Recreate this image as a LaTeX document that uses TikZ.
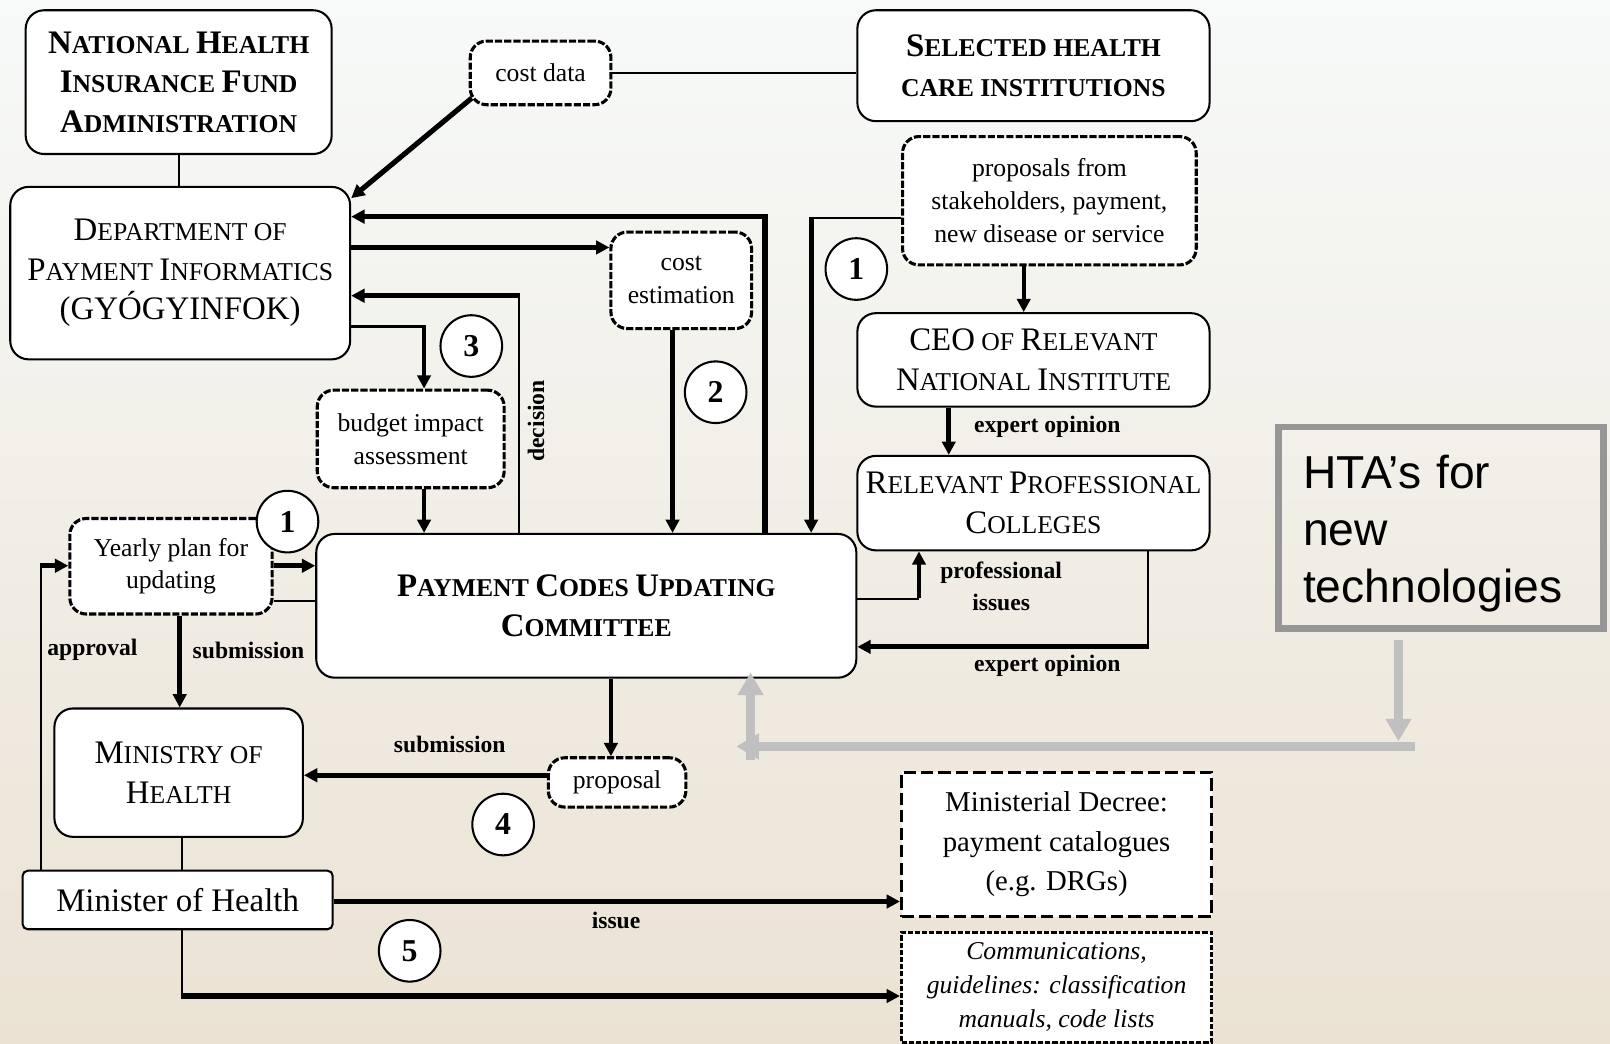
\documentclass[tikz,border=0pt]{standalone}
\usepackage{fontspec}
\setmainfont{Liberation Serif}
\newfontfamily\htafont{Liberation Sans}
\usetikzlibrary{arrows.meta}

\definecolor{bgtop}{HTML}{F7FAF9}
\definecolor{bgmid}{HTML}{EEF0E4}
\definecolor{bgbot}{HTML}{EBE2D3}
\definecolor{htaframe}{HTML}{969696}
\definecolor{htaarrow}{HTML}{C0C0C0}

% hand-made small capitals: large initial, smaller capitals after it
\newcommand\SC[2]{{\fontsize{32}{38.5}\selectfont #1}#2}
\newcommand\bigcaps[1]{{\fontsize{32}{38.5}\selectfont #1}}

\tikzset{
  box/.style={draw=black, line width=2pt, fill=white, rounded corners=18pt,
    align=center, inner sep=0pt, font=\fontsize{25}{38.5}\selectfont},
  hbox/.style={box, font=\fontsize{25}{38.5}\selectfont\bfseries},
  dbox/.style={draw=black, line width=3pt, dash pattern=on 7pt off 2pt,
    fill=white, rounded corners=16pt, align=center, inner sep=0pt,
    font=\fontsize{25}{32}\selectfont},
  circnum/.style={circle, draw=black, line width=2pt, fill=white,
    minimum size=60pt, inner sep=0pt, font=\fontsize{31}{31}\selectfont\bfseries},
  lbl/.style={inner sep=0pt, align=center, font=\fontsize{23}{32}\selectfont\bfseries},
  thinln/.style={line width=2pt},
  medln/.style={line width=3.5pt},
  heavyln/.style={line width=5pt},
  tipped/.style={-{Triangle[length=13pt,width=13pt]}},
  grayln/.style={draw=htaarrow, line width=8pt, -{Triangle[length=22pt,width=24pt]}},
}

\begin{document}
\begin{tikzpicture}[x=1pt,y=-1pt]
\useasboundingbox (0,0) rectangle (1568,1016);
\shade[top color=bgtop, middle color=bgmid, bottom color=bgbot] (0,0) rectangle (1568,1016);

% ---------- boxes ----------
\node[hbox, minimum width=298pt, minimum height=140pt] (nhifa) at (174,80)
  {\SC{N}{ATIONAL} \SC{H}{EALTH}\\ \SC{I}{NSURANCE} \SC{F}{UND}\\ \SC{A}{DMINISTRATION}};
\node[dbox, minimum width=137pt, minimum height=62pt] (cdata) at (526.5,71) {cost data};
\node[hbox, minimum width=343pt, minimum height=108pt] (shci) at (1006.5,64)
  {\SC{S}{ELECTED} HEALTH\\ CARE INSTITUTIONS};
\node[box, minimum width=331pt, minimum height=168pt] (dept) at (175.5,266)
  {\SC{D}{EPARTMENT} OF\\ \SC{P}{AYMENT} \SC{I}{NFORMATICS}\\ \bigcaps{(GYÓGYINFOK)}};
\node[dbox, minimum width=137pt, minimum height=94pt] (cest) at (663.5,273) {cost\\ estimation};
\node[dbox, minimum width=286pt, minimum height=125pt] (props) at (1022,195.5)
  {proposals from\\ stakeholders, payment,\\ new disease or service};
\node[box, minimum width=343pt, minimum height=91pt] (ceo) at (1006.5,350.5)
  {\bigcaps{CEO} OF \SC{R}{ELEVANT}\\ \SC{N}{ATIONAL} \SC{I}{NSTITUTE}};
\node[box, minimum width=343pt, minimum height=92pt] (rpc) at (1006.5,490)
  {\SC{R}{ELEVANT} \SC{P}{ROFESSIONAL}\\ \SC{C}{OLLEGES}};
\node[dbox, minimum width=182pt, minimum height=95pt] (budget) at (400,427.5)
  {budget impact\\ assessment};
\node[dbox, minimum width=197pt, minimum height=93pt] (yearly) at (166.5,551.5)
  {Yearly plan for\\ updating};
\node[hbox, minimum width=526pt, minimum height=140pt] (pcuc) at (571,590)
  {\SC{P}{AYMENT} \SC{C}{ODES} \SC{U}{PDATING}\\ \SC{C}{OMMITTEE}};
\node[box, minimum width=242pt, minimum height=125pt] (ministry) at (174,752.5)
  {\SC{M}{INISTRY} OF\\ \SC{H}{EALTH}};
\node[dbox, minimum width=134pt, minimum height=48pt] (proposal) at (601,762) {proposal};
\node[box, rounded corners=5pt, minimum width=302pt, minimum height=57pt,
  font=\fontsize{32}{38}\selectfont] (minister) at (173,876.5) {Minister of Health};
\node[draw=black, line width=3pt, dash pattern=on 12pt off 5pt, fill=white,
  minimum width=302pt, minimum height=141pt, align=center, inner sep=0pt,
  font=\fontsize{28}{38.5}\selectfont] (decree) at (1029,822.5)
  {Ministerial Decree:\\ payment catalogues\\ (e.g. DRGs)};
\node[draw=black, line width=3pt, dash pattern=on 5pt off 2pt, fill=white,
  minimum width=302pt, minimum height=107pt, align=center, inner sep=0pt,
  font=\fontsize{25}{33}\selectfont\itshape] (comm) at (1029,961.5)
  {Communications,\\ guidelines: classification\\ manuals, code lists};
\node[draw=htaframe, line width=6.5pt, minimum width=316.5pt, minimum height=196.5pt,
  text width=269pt, inner xsep=23.75pt, inner ysep=0pt, align=left,
  font=\htafont\fontsize{45}{55.5}\selectfont] (hta) at (1403.5,514)
  {\rule{0pt}{43pt}HTA’s for\\ new\\ technologies};

% ---------- bend points ----------
\coordinate (kTop)  at (745,211);
\coordinate (kEst)  at (655,241);
\coordinate (kDec)  at (505,288);
\coordinate (kBud)  at (413,318);
\coordinate (kProp) at (790,212);
\coordinate (kPC)   at (997,280);
\coordinate (kCR)   at (924,420);
\coordinate (kProf) at (895,583);
\coordinate (kExp)  at (1118,630);
\coordinate (kYP)   at (265,551);
\coordinate (kYB)   at (280,585);
\coordinate (kSub)  at (175,640);
\coordinate (kAppr) at (40,551);
\coordinate (kPP)   at (595,700);
\coordinate (kPM)   at (500,755);
\coordinate (kMM)   at (177,830);
\coordinate (kIss)  at (600,878);
\coordinate (kCom)  at (177,970);
\coordinate (gDown) at (1362,722);
\coordinate (gR)    at (1378,727);
\coordinate (gL)    at (717,727);
\coordinate (gB)    at (731,740);

% ---------- connectors ----------
\draw[thinln] (nhifa.south) -- (nhifa.south |- dept.north);
\draw[thinln] (cdata.east) -- (shci.west |- cdata.east);
\draw[heavyln, tipped] ([shift={(3pt,8pt)}]cdata.south west) -- ([yshift=-12pt]dept.north east);
\draw[heavyln, tipped] (pcuc.north -| kTop) |- (dept.east |- kTop);
\draw[heavyln, tipped] (dept.east |- kEst) -- (cest.west |- kEst);
\draw[thinln] (pcuc.north -| kDec) -- (kDec);
\draw[heavyln, tipped] ([xshift=1pt]kDec) -- (dept.east |- kDec);
\draw[thinln] (dept.east |- kBud) -- (kBud);
\draw[medln, tipped] ([yshift=1pt]kBud) -- (budget.north -| kBud);
\draw[medln, tipped] (budget.south -| kBud) -- (pcuc.north -| kBud);
\draw[heavyln, tipped] (cest.south -| kEst) -- (pcuc.north -| kEst);
\draw[thinln] (props.west |- kProp) -- (kProp);
\draw[heavyln, tipped] ([yshift=1pt]kProp) -- (pcuc.north -| kProp);
\draw[medln, tipped] (props.south -| kPC) -- (ceo.north -| kPC);
\draw[heavyln, tipped] (ceo.south -| kCR) -- (rpc.north -| kCR);
\draw[thinln] (pcuc.east |- kProf) -- (kProf);
\draw[medln, tipped] ([yshift=1pt]kProf) -- (rpc.south -| kProf);
\draw[thinln] (rpc.south -| kExp) -- (kExp);
\draw[heavyln, tipped] ([xshift=1pt]kExp) -- (pcuc.east |- kExp);
\draw[heavyln, tipped] (yearly.east |- kYP) -- (pcuc.west |- kYP);
\draw[thinln] (pcuc.west |- kYB) -- (yearly.east |- kYB);
\draw[heavyln, tipped] (yearly.south -| kSub) -- (ministry.north -| kSub);
\draw[thinln] (minister.north -| kAppr) -- (kAppr);
\draw[heavyln, tipped] ([xshift=-1pt]kAppr) -- (yearly.west |- kAppr);
\draw[medln, tipped] (pcuc.south -| kPP) -- (proposal.north -| kPP);
\draw[heavyln, tipped] (proposal.west |- kPM) -- (ministry.east |- kPM);
\draw[thinln] (ministry.south -| kMM) -- (minister.north -| kMM);
\draw[heavyln, tipped] (minister.east |- kIss) -- (decree.west |- kIss);
\draw[thinln] (minister.south -| kCom) -- (kCom);
\draw[heavyln, tipped] ([xshift=-1pt]kCom) -- (comm.west |- kCom);

% HTA input
\draw[grayln] ([yshift=-8pt]hta.south -| gDown) -- (gDown);
\draw[grayln] (gR) -- (gL);
\draw[grayln] (gB) -- ([yshift=6pt]pcuc.south -| gB);

% ---------- step numbers ----------
\node[circnum] (s1a) at (834,262) {1};
\node[circnum] (s2)  at (697,382) {2};
\node[circnum] (s3)  at (459,337) {3};
\node[circnum] (s1b) at (280,508) {1};
\node[circnum] (s4)  at (490,803) {4};
\node[circnum] (s5)  at (399,926) {5};

% ---------- connector labels ----------
\node[lbl] (lExpA) at (1020,416) {expert opinion};
\node[lbl] (lProf) at (975,571) {professional\\ issues};
\node[lbl] (lExpB) at (1020,648) {expert opinion};
\node[lbl] (lSubA) at (242,633) {submission};
\node[lbl] (lAppr) at (90,633) {approval};
\node[lbl] (lSubB) at (438,725) {submission};
\node[lbl] (lIss)  at (600,896) {issue};
\node[lbl, rotate=90] (lDec) at (522,410) {decision};
\end{tikzpicture}
\end{document}
